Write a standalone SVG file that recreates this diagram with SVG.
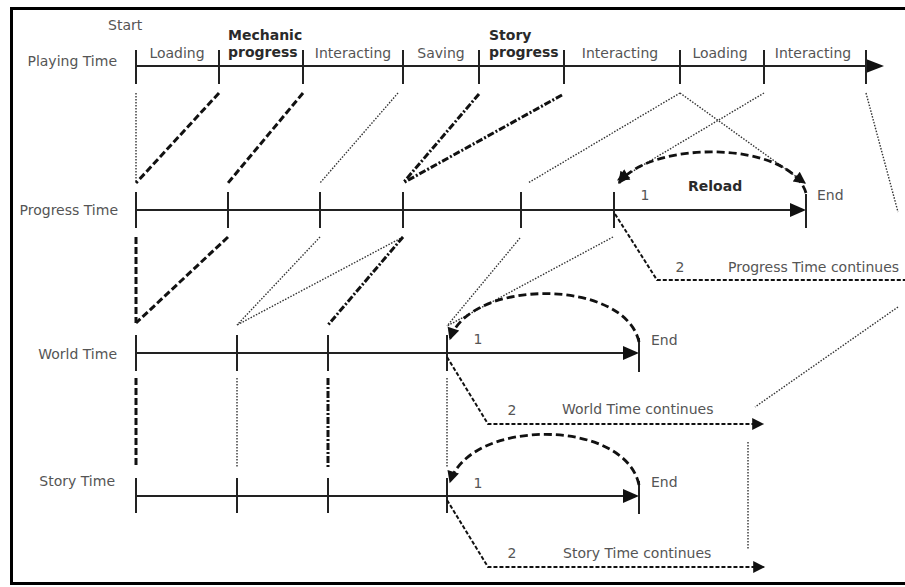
<svg xmlns="http://www.w3.org/2000/svg" width="905" height="587" viewBox="0 0 905 587">
<style>
text{font-family:"DejaVu Sans","Liberation Sans",sans-serif;font-size:14px;fill:#555}
.b{font-weight:bold;fill:#2a2a2a}
.m{text-anchor:middle}
.e{text-anchor:end}
.ax{stroke:#222;stroke-width:2;fill:none}
.tk{stroke:#222;stroke-width:2}
.hd{fill:#111}
.dash{stroke:#111;stroke-width:3;stroke-dasharray:7 3;fill:none}
.dot{stroke:#333;stroke-width:1.4;stroke-dasharray:1.5 1.5;fill:none}
.dd{stroke:#111;stroke-width:3;stroke-dasharray:7 2 2 2;fill:none}
.arc{stroke:#111;stroke-width:2.8;stroke-dasharray:8 4;fill:none}
.cont{stroke:#111;stroke-width:2;stroke-dasharray:4 2;fill:none}
</style>
<defs>
<marker id="ah" viewBox="0 0 10 10" refX="9" refY="5" markerWidth="15" markerHeight="12" markerUnits="userSpaceOnUse" orient="auto">
<path d="M0,0 L10,5 L0,10 z" fill="#111"/>
</marker>
<marker id="ahs" viewBox="0 0 10 10" refX="9" refY="5" markerWidth="16" markerHeight="12" markerUnits="userSpaceOnUse" orient="auto">
<path d="M0,0 L10,5 L0,10 z" fill="#111"/>
</marker>
</defs>
<rect x="11.5" y="8.5" width="1000" height="575" fill="#fff" stroke="#000" stroke-width="3"/>

<g id="playing-time">
<text x="117" y="66" class="e">Playing Time</text>
<text x="108" y="30">Start</text>
<line x1="136" y1="66" x2="868" y2="66" class="ax"/>
<path d="M866,59 L884,66 L866,73 z" class="hd"/>
<g class="tk">
<line x1="136" y1="50" x2="136" y2="84"/><line x1="219" y1="50" x2="219" y2="84"/><line x1="303" y1="50" x2="303" y2="84"/>
<line x1="403" y1="50" x2="403" y2="84"/><line x1="479" y1="50" x2="479" y2="84"/><line x1="564" y1="50" x2="564" y2="84"/>
<line x1="680" y1="50" x2="680" y2="84"/><line x1="764" y1="50" x2="764" y2="84"/><line x1="866" y1="50" x2="866" y2="84"/>
</g>
<text x="177" y="58" class="m">Loading</text>
<text x="228" y="40" class="b">Mechanic</text>
<text x="228" y="57" class="b">progress</text>
<text x="353" y="58" class="m">Interacting</text>
<text x="441" y="58" class="m">Saving</text>
<text x="489" y="40" class="b">Story</text>
<text x="489" y="57" class="b">progress</text>
<text x="620" y="58" class="m">Interacting</text>
<text x="720" y="58" class="m">Loading</text>
<text x="813" y="58" class="m">Interacting</text>
</g>

<g id="progress-time">
<text x="118" y="215" class="e">Progress Time</text>
<line x1="136" y1="210" x2="792" y2="210" class="ax"/>
<path d="M790,203 L806,210 L790,217 z" class="hd"/>
<g class="tk">
<line x1="136" y1="192" x2="136" y2="228"/><line x1="228" y1="192" x2="228" y2="228"/><line x1="320" y1="192" x2="320" y2="228"/>
<line x1="403" y1="192" x2="403" y2="228"/><line x1="521" y1="192" x2="521" y2="228"/><line x1="614" y1="192" x2="614" y2="228"/>
<line x1="806" y1="194" x2="806" y2="228"/>
</g>
<text x="645" y="200" class="m">1</text>
<text x="688" y="191" class="b">Reload</text>
<text x="817" y="200">End</text>
<text x="680" y="272" class="m">2</text>
<text x="728" y="272">Progress Time continues</text>
</g>

<g id="world-time">
<text x="117" y="359" class="e">World Time</text>
<line x1="136" y1="353" x2="625" y2="353" class="ax"/>
<path d="M623,346 L639,353 L623,360 z" class="hd"/>
<g class="tk">
<line x1="136" y1="335" x2="136" y2="371"/><line x1="237" y1="335" x2="237" y2="371"/><line x1="328" y1="335" x2="328" y2="371"/>
<line x1="447" y1="335" x2="447" y2="371"/><line x1="639" y1="338" x2="639" y2="372"/>
</g>
<text x="478" y="344" class="m">1</text>
<text x="651" y="345">End</text>
<text x="512" y="415" class="m">2</text>
<text x="562" y="414">World Time continues</text>
</g>

<g id="story-time">
<text x="115" y="486" class="e">Story Time</text>
<line x1="136" y1="496" x2="625" y2="496" class="ax"/>
<path d="M623,489 L639,496 L623,503 z" class="hd"/>
<g class="tk">
<line x1="136" y1="478" x2="136" y2="513"/><line x1="237" y1="478" x2="237" y2="513"/><line x1="328" y1="478" x2="328" y2="513"/>
<line x1="447" y1="478" x2="447" y2="513"/><line x1="639" y1="481" x2="639" y2="514"/>
</g>
<text x="478" y="488" class="m">1</text>
<text x="651" y="487">End</text>
<text x="512" y="558" class="m">2</text>
<text x="563" y="558">Story Time continues</text>
</g>

<g id="connectors">
<line x1="136" y1="93" x2="136" y2="183" class="dot"/>
<line x1="219" y1="93" x2="136" y2="183" class="dash"/>
<line x1="303" y1="93" x2="228" y2="183" class="dash"/>
<line x1="398" y1="93" x2="320" y2="183" class="dot"/>
<line x1="479" y1="94" x2="403" y2="183" class="dd"/>
<line x1="562" y1="95" x2="403" y2="183" class="dd"/>
<line x1="680" y1="93" x2="528" y2="183" class="dot"/>
<line x1="680" y1="93" x2="805" y2="183" class="dot" marker-end="url(#ah)"/>
<line x1="764" y1="93" x2="618" y2="180" class="dot" marker-end="url(#ah)"/>
<line x1="866" y1="93" x2="898" y2="212" class="dot"/>
<path d="M806,193 C790,140 650,140 619,183" class="arc" marker-end="url(#ah)"/>
<line x1="136" y1="237" x2="136" y2="323" class="dash"/>
<line x1="228" y1="237" x2="136" y2="323" class="dash"/>
<line x1="320" y1="237" x2="237" y2="325" class="dot"/>
<line x1="403" y1="237" x2="237" y2="325" class="dot"/>
<line x1="403" y1="237" x2="328" y2="325" class="dd"/>
<line x1="520" y1="238" x2="447" y2="326" class="dot"/>
<line x1="613" y1="237" x2="447" y2="326" class="dot"/>
<path d="M615,214 L657,280 L905,280" class="cont"/>
<line x1="898" y1="307" x2="755" y2="407" class="dot"/>
<path d="M639,342 C625,278 470,278 450,339" class="arc" marker-end="url(#ah)"/>
<path d="M447,357 L488,424 L763,424" class="cont" marker-end="url(#ahs)"/>
<line x1="136" y1="378" x2="136" y2="467" class="dash"/>
<line x1="237" y1="378" x2="237" y2="467" class="dot"/>
<line x1="328" y1="378" x2="328" y2="467" class="dd"/>
<line x1="447" y1="378" x2="447" y2="467" class="dot"/>
<line x1="748" y1="442" x2="748" y2="550" class="dot"/>
<path d="M639,485 C625,418 470,418 450,482" class="arc" marker-end="url(#ah)"/>
<path d="M447,500 L488,567 L764,567" class="cont" marker-end="url(#ahs)"/>
</g>
</svg>
